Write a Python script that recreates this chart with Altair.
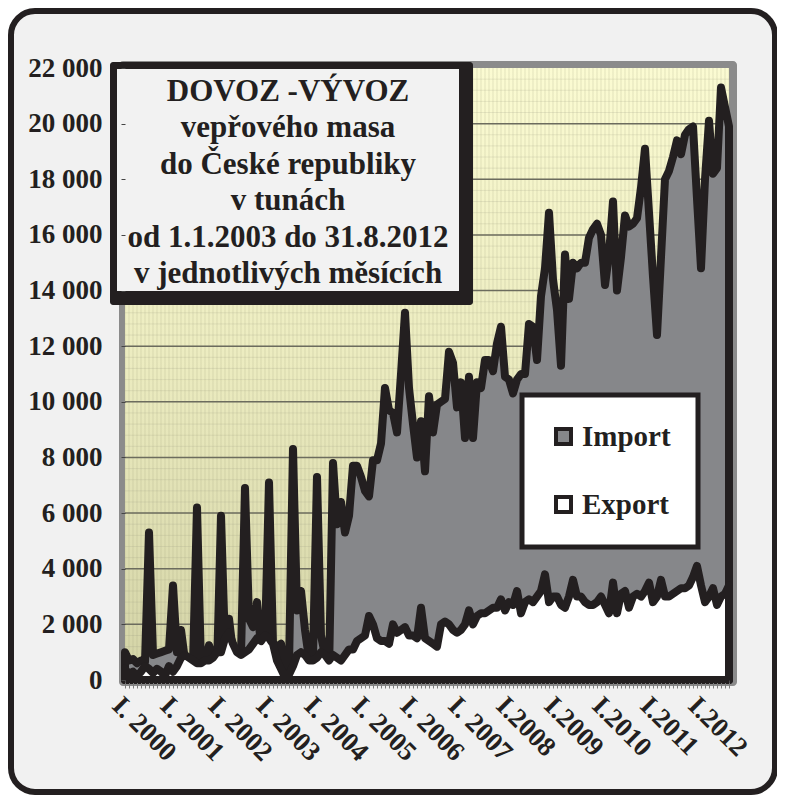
import altair as alt
import pandas as pd

FONT = "Liberation Serif"
INK = "#231f20"

year_labels = ["I. 2000", "I. 2001", "I. 2002", "I. 2003", "I. 2004", "I. 2005",
               "I. 2006", "I. 2007", "I.2008", "I.2009", "I.2010", "I.2011", "I.2012"]

title_lines = ["DOVOZ -VÝVOZ", "vepřového masa", "do České republiky",
               "v tunách", "od 1.1.2003 do 31.8.2012", "v jednotlivých měsících"]

series_names = ["Import", "Export"]

# monthly values in tonnes, Jan 2000 - Aug 2012
import_2000 = [1000, 700, 750, 600, 700, 650, 5300, 900, 950, 1000, 1050, 1100]
import_2001 = [3400, 1000, 1800, 700, 600, 600, 6200, 500, 700, 1250, 800, 400]
import_2002 = [5900, 1200, 2200, 1000, 800, 900, 6900, 2200, 1900, 2800, 1200, 1400]
import_2003 = [7100, 1300, 1200, 1300, 250, 500, 8300, 2500, 3200, 1800, 750, 850]
import_2004 = [7300, 1600, 900, 300, 7800, 5600, 6400, 5300, 5900, 7700, 7700, 7300]
import_2005 = [6800, 6600, 7900, 7900, 8500, 10500, 9700, 9600, 8900, 11000, 13200, 10500]
import_2006 = [9200, 8000, 9300, 7500, 10200, 8900, 9900, 10000, 10100, 11800, 11400, 9800]
import_2007 = [10700, 8700, 10900, 8700, 10700, 10500, 11500, 11500, 11100, 12100, 12700, 10900]
import_2008 = [10800, 10300, 10800, 11000, 11000, 12800, 12700, 11500, 13800, 14800, 16800, 14400]
import_2009 = [13300, 11300, 15300, 13700, 15000, 14800, 15000, 15000, 15900, 16200, 16400, 16000]
import_2010 = [14200, 15300, 17200, 14000, 15200, 16700, 16300, 16400, 16600, 17700, 19100, 16800]
import_2011 = [14500, 12400, 15200, 18000, 18300, 18800, 19400, 18900, 19600, 19800, 19900, 17300]
import_2012 = [14800, 18000, 20100, 18200, 18400, 21300, 20600, 19900]

export_2000 = [400, 200, 300, 150, 300, 500, 400, 250, 400, 300, 150, 500]
export_2001 = [300, 500, 800, 900, 800, 700, 600, 600, 700, 700, 800, 1000]
export_2002 = [1000, 1500, 1700, 1300, 1000, 900, 1000, 1100, 1300, 1500, 1400, 1600]
export_2003 = [1500, 1300, 700, 400, 100, 200, 500, 900, 1000, 900, 700, 700]
export_2004 = [800, 1000, 900, 700, 900, 800, 700, 900, 1100, 1100, 1400, 1500]
export_2005 = [1600, 2300, 2000, 1500, 1400, 1400, 1300, 2000, 1700, 1800, 1900, 1600]
export_2006 = [1600, 1500, 2600, 1500, 1400, 1300, 1200, 2000, 2100, 2000, 1800, 1700]
export_2007 = [1800, 2000, 2500, 2000, 2300, 2400, 2400, 2500, 2600, 2600, 2900, 2500]
export_2008 = [2800, 2700, 3200, 2400, 2800, 2900, 2800, 3000, 3200, 3800, 2800, 3000]
export_2009 = [3000, 2700, 2600, 3000, 3600, 3000, 3000, 2800, 2700, 2700, 2800, 3000]
export_2010 = [2700, 2400, 3500, 2400, 3100, 3200, 2600, 3000, 3100, 3000, 3200, 3500]
export_2011 = [2800, 3000, 3600, 3000, 3000, 3100, 3200, 3300, 3300, 3400, 3700, 4100]
export_2012 = [3400, 2800, 3000, 3300, 2700, 3000, 3100, 3400]

import_values = (import_2000 + import_2001 + import_2002 + import_2003 + import_2004 +
                 import_2005 + import_2006 + import_2007 + import_2008 + import_2009 +
                 import_2010 + import_2011 + import_2012)
export_values = (export_2000 + export_2001 + export_2002 + export_2003 + export_2004 +
                 export_2005 + export_2006 + export_2007 + export_2008 + export_2009 +
                 export_2010 + export_2011 + export_2012)

n = len(import_values)
months = list(range(n))
y_ticks = list(range(0, 22001, 2000))
y_minor = list(range(400, 22000, 400))

df = pd.DataFrame({
    "m": months + months,
    "value": import_values + export_values,
    "series": ["Import"] * n + ["Export"] * n,
})

W, H = 604, 612
xscale = alt.Scale(domain=[0, n - 1], nice=False, zero=False)
yscale = alt.Scale(domain=[0, 22000], nice=False)
fill_scale = alt.Scale(domain=series_names, range=["#86878a", "#ffffff"])

label_array = "[" + ",".join("'" + s + "'" for s in year_labels) + "]"

x_axis = alt.Axis(
    values=months, title=None, grid=False,
    labelExpr=f"datum.value % 12 == 0 ? {label_array}[datum.value / 12] : ''",
    labelAngle=45, labelAlign="left", labelBaseline="top", labelPadding=4,
    labelFont=FONT, labelFontSize=27, labelFontWeight="bold", labelColor=INK,
    labelOverlap=False, labelBound=False, labelFlush=False,
    tickColor="#7c7c7c", tickSize=8, tickWidth=1,
    domainColor=INK, domainWidth=5, zindex=1)

y_axis = alt.Axis(
    values=y_ticks, title=None, grid=False, domain=False,
    labelExpr="replace(format(datum.value, ','), ',', ' ')",
    labelFont=FONT, labelFontSize=27, labelFontWeight="bold", labelColor=INK,
    labelPadding=19, tickSize=4, tickColor="#444444", zindex=1)

legend = alt.Legend(
    title=None, orient="none", legendX=397, legendY=327,
    labelFont=FONT, labelFontSize=29, labelFontWeight="bold", labelColor=INK,
    symbolType="square", symbolSize=225, symbolStrokeWidth=4, symbolStrokeColor=INK,
    fillColor="white", strokeColor=INK, padding=27, rowPadding=37, labelOffset=4,
    zindex=1)

one = pd.DataFrame({"a": [0]})

frame = alt.Chart(one).mark_rect(
    fill="#f1f1f1", stroke=INK, strokeWidth=6, cornerRadius=24
).encode(x=alt.value(-114), x2=alt.value(650), y=alt.value(-57), y2=alt.value(724))

wall = alt.Chart(one).mark_rect(fill="#8b8b8b", cornerRadius=4).encode(
    x=alt.value(-6), x2=alt.value(W + 8), y=alt.value(-7), y2=alt.value(H + 6))

bg_df = pd.DataFrame({"x0": [0], "x1": [n - 1], "y0": [0], "y1": [22000]})
bg = alt.Chart(bg_df).mark_rect(
    fill={"gradient": "linear", "x1": 0, "x2": 0, "y1": 0, "y2": 1,
          "stops": [{"offset": 0, "color": "#fbfbd2"},
                    {"offset": 0.5, "color": "#ebebbf"},
                    {"offset": 1, "color": "#d3d3a6"}]}
).encode(
    x=alt.X("x0:Q", scale=xscale, axis=x_axis), x2="x1:Q",
    y=alt.Y("y0:Q", scale=yscale, axis=y_axis), y2="y1:Q")

vminor = alt.Chart(pd.DataFrame({"m": months})).mark_rule(
    color="#9c9c80", opacity=0.35, strokeWidth=0.7
).encode(x=alt.X("m:Q", scale=xscale, axis=x_axis))

hminor = alt.Chart(pd.DataFrame({"value": y_minor})).mark_rule(
    color="#9c9c80", opacity=0.3, strokeWidth=0.7
).encode(y=alt.Y("value:Q", scale=yscale, axis=y_axis))

major = alt.Chart(pd.DataFrame({"value": y_ticks[1:-1]})).mark_rule(
    color="#6c6c5e", strokeWidth=1.5
).encode(y=alt.Y("value:Q", scale=yscale, axis=y_axis))

imp = alt.Chart(df).transform_filter(alt.datum.series == "Import").mark_area(
    stroke=INK, strokeWidth=8, strokeJoin="round", opacity=1
).encode(
    x=alt.X("m:Q", scale=xscale, axis=x_axis),
    y=alt.Y("value:Q", scale=yscale, axis=y_axis, stack=None),
    fill=alt.Fill("series:N", scale=fill_scale, legend=legend),
)

exp = alt.Chart(df).transform_filter(alt.datum.series == "Export").mark_area(
    stroke=INK, strokeWidth=8, strokeJoin="round", opacity=1
).encode(
    x=alt.X("m:Q", scale=xscale, axis=x_axis),
    y=alt.Y("value:Q", scale=yscale, axis=y_axis, stack=None),
    fill=alt.Fill("series:N", scale=fill_scale, legend=legend),
)

box_shadow = alt.Chart(one).mark_rect(fill=INK, cornerRadius=3).encode(
    x=alt.value(-15), x2=alt.value(348), y=alt.value(-6), y2=alt.value(237))
box = alt.Chart(one).mark_rect(fill="#f2f2f2").encode(
    x=alt.value(-8), x2=alt.value(334), y=alt.value(1), y2=alt.value(223))
title = alt.Chart(one).mark_text(
    text=title_lines, font=FONT, fontSize=31, fontWeight="bold", color=INK,
    align="center", baseline="alphabetic", lineHeight=36.4
).encode(x=alt.value(163), y=alt.value(33))

chart = alt.layer(
    frame, wall, bg, vminor, hminor, major, imp, exp, box_shadow, box, title
).properties(
    width=W, height=H,
    autosize=alt.AutoSizeParams(type="none"),
    padding={"left": 117, "top": 60, "right": 48, "bottom": 116},
    background="white",
).configure_view(stroke=None).configure_legend(strokeWidth=5)

chart.save("out.html", embed_options={"renderer": "svg", "actions": False})
